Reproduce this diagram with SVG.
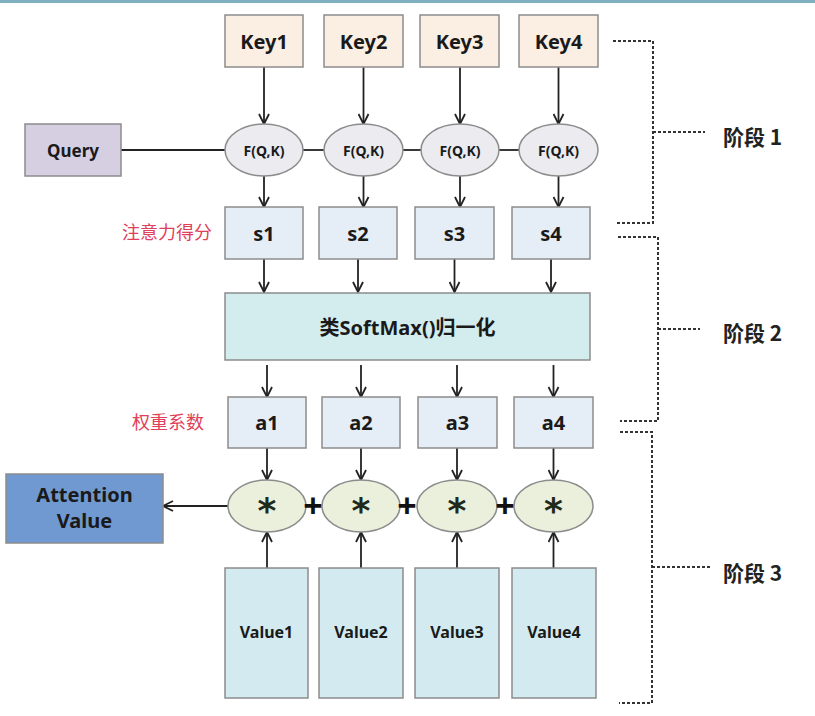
<svg xmlns="http://www.w3.org/2000/svg" width="815" height="716" viewBox="0 0 815 716">
<defs>
<marker id="ah" viewBox="0 0 12 12" refX="11" refY="6" markerWidth="12" markerHeight="12" markerUnits="userSpaceOnUse" orient="auto">
<path d="M1,1 L11,6 L1,11" fill="none" stroke="#222" stroke-width="1.8"/>
</marker>
<style>
.bx{stroke:#8c8c8c;stroke-width:1.5}
.key{fill:#fbeee3}
.sa{fill:#e5edf6}
.val{fill:#d3ebf0}
.el{fill:#ebebf0;stroke:#8c8c8c;stroke-width:1.5}
.st{fill:#eaf0dc;stroke:#8c8c8c;stroke-width:1.5}
.t{font-family:"Noto Sans","Noto Sans CJK SC",sans-serif;font-weight:bold;fill:#1a1a1a;text-anchor:middle;dominant-baseline:central}
.ast{font-family:"DejaVu Sans",sans-serif;font-weight:bold;font-size:36px;fill:#1f2a1a;text-anchor:middle}
.pl{font-family:"Noto Sans",sans-serif;font-weight:bold;font-size:34px;fill:#111;text-anchor:middle}
.red{font-family:"Noto Sans CJK SC","Noto Sans",sans-serif;fill:#e0405a;font-size:18px;text-anchor:end;dominant-baseline:central}
.stage{font-family:"Noto Sans CJK SC","Noto Sans",sans-serif;font-weight:bold;fill:#222;font-size:21px;dominant-baseline:central}
.ln{stroke:#222;stroke-width:1.8;fill:none}
.dot{stroke:#333;stroke-width:2;stroke-dasharray:3 2;fill:none}
</style>
</defs>
<rect x="0" y="0" width="815" height="716" fill="#ffffff"/>
<rect x="0" y="0" width="815" height="3" fill="#7fb0c0"/>

<g id="connectors">
<line class="ln" x1="121" y1="150" x2="225" y2="150"/>
<line class="ln" x1="303" y1="150" x2="324" y2="150"/>
<line class="ln" x1="403" y1="150" x2="421" y2="150"/>
<line class="ln" x1="499" y1="150" x2="519" y2="150"/>
<line class="ln" x1="264" y1="67" x2="264" y2="124" marker-end="url(#ah)"/>
<line class="ln" x1="363.5" y1="67" x2="363.5" y2="124" marker-end="url(#ah)"/>
<line class="ln" x1="460" y1="67" x2="460" y2="124" marker-end="url(#ah)"/>
<line class="ln" x1="558.5" y1="67" x2="558.5" y2="124" marker-end="url(#ah)"/>
<line class="ln" x1="264" y1="176" x2="264" y2="207" marker-end="url(#ah)"/>
<line class="ln" x1="363.5" y1="176" x2="363.5" y2="207" marker-end="url(#ah)"/>
<line class="ln" x1="460" y1="176" x2="460" y2="207" marker-end="url(#ah)"/>
<line class="ln" x1="558.5" y1="176" x2="558.5" y2="207" marker-end="url(#ah)"/>
<line class="ln" x1="264" y1="259" x2="264" y2="292" marker-end="url(#ah)"/>
<line class="ln" x1="358" y1="259" x2="358" y2="292" marker-end="url(#ah)"/>
<line class="ln" x1="454.5" y1="259" x2="454.5" y2="292" marker-end="url(#ah)"/>
<line class="ln" x1="551" y1="259" x2="551" y2="292" marker-end="url(#ah)"/>
<line class="ln" x1="267" y1="365" x2="267" y2="397" marker-end="url(#ah)"/>
<line class="ln" x1="361" y1="365" x2="361" y2="397" marker-end="url(#ah)"/>
<line class="ln" x1="457" y1="365" x2="457" y2="397" marker-end="url(#ah)"/>
<line class="ln" x1="553.5" y1="365" x2="553.5" y2="397" marker-end="url(#ah)"/>
<line class="ln" x1="267" y1="448" x2="267" y2="480" marker-end="url(#ah)"/>
<line class="ln" x1="361" y1="448" x2="361" y2="480" marker-end="url(#ah)"/>
<line class="ln" x1="457" y1="448" x2="457" y2="480" marker-end="url(#ah)"/>
<line class="ln" x1="553.5" y1="448" x2="553.5" y2="480" marker-end="url(#ah)"/>
<line class="ln" x1="267" y1="568" x2="267" y2="532" marker-end="url(#ah)"/>
<line class="ln" x1="361" y1="568" x2="361" y2="532" marker-end="url(#ah)"/>
<line class="ln" x1="457" y1="568" x2="457" y2="532" marker-end="url(#ah)"/>
<line class="ln" x1="553.5" y1="568" x2="553.5" y2="532" marker-end="url(#ah)"/>
<line class="ln" x1="228" y1="506" x2="163" y2="506" marker-end="url(#ah)"/>
</g>

<g id="query"><rect class="bx" x="25" y="124" width="96" height="52" fill="#d6cfe2"/><text class="t" x="73" y="150" font-size="17">Query</text></g>

<g id="key1"><rect class="bx key" x="225" y="15" width="78" height="52"/><text class="t" x="264" y="41" font-size="20">Key1</text></g>
<g id="key2"><rect class="bx key" x="324" y="15" width="79" height="52"/><text class="t" x="363.5" y="41" font-size="20">Key2</text></g>
<g id="key3"><rect class="bx key" x="420" y="15" width="79" height="52"/><text class="t" x="459.5" y="41" font-size="20">Key3</text></g>
<g id="key4"><rect class="bx key" x="519" y="15" width="79" height="52"/><text class="t" x="558.5" y="41" font-size="20">Key4</text></g>

<g id="f1"><ellipse class="el" cx="264" cy="150" rx="39" ry="26"/><text class="t" x="264" y="150" font-size="14">F(Q,K)</text></g>
<g id="f2"><ellipse class="el" cx="363.5" cy="150" rx="39.5" ry="26"/><text class="t" x="363.5" y="150" font-size="14">F(Q,K)</text></g>
<g id="f3"><ellipse class="el" cx="460" cy="150" rx="39" ry="26"/><text class="t" x="460" y="150" font-size="14">F(Q,K)</text></g>
<g id="f4"><ellipse class="el" cx="558.5" cy="150" rx="39.5" ry="26"/><text class="t" x="558.5" y="150" font-size="14">F(Q,K)</text></g>

<g id="label-score"><text class="red" x="212" y="231">注意力得分</text></g>

<g id="s1"><rect class="bx sa" x="225" y="207" width="78" height="52"/><text class="t" x="264" y="233" font-size="20">s1</text></g>
<g id="s2"><rect class="bx sa" x="319" y="207" width="78" height="52"/><text class="t" x="358" y="233" font-size="20">s2</text></g>
<g id="s3"><rect class="bx sa" x="415" y="207" width="79" height="52"/><text class="t" x="454.5" y="233" font-size="20">s3</text></g>
<g id="s4"><rect class="bx sa" x="512" y="207" width="78" height="52"/><text class="t" x="551" y="233" font-size="20">s4</text></g>

<g id="softmax"><rect class="bx" x="225" y="293" width="365" height="67" fill="#d3ecee"/><text class="t" x="407.5" y="327" font-size="20">类SoftMax()归一化</text></g>

<g id="label-weight"><text class="red" x="204" y="421">权重系数</text></g>

<g id="a1"><rect class="bx sa" x="228" y="397" width="78" height="51"/><text class="t" x="267" y="422" font-size="20">a1</text></g>
<g id="a2"><rect class="bx sa" x="322" y="397" width="78" height="51"/><text class="t" x="361" y="422" font-size="20">a2</text></g>
<g id="a3"><rect class="bx sa" x="418" y="397" width="79" height="51"/><text class="t" x="457.5" y="422" font-size="20">a3</text></g>
<g id="a4"><rect class="bx sa" x="514" y="397" width="79" height="51"/><text class="t" x="553.5" y="422" font-size="20">a4</text></g>

<g id="m1"><ellipse class="st" cx="267" cy="506" rx="39" ry="26"/><text class="ast" x="267" y="523">*</text></g>
<g id="m2"><ellipse class="st" cx="361" cy="506" rx="39" ry="26"/><text class="ast" x="361" y="523">*</text></g>
<g id="m3"><ellipse class="st" cx="457" cy="506" rx="40" ry="26"/><text class="ast" x="457" y="523">*</text></g>
<g id="m4"><ellipse class="st" cx="553.5" cy="506" rx="39.5" ry="26"/><text class="ast" x="553.5" y="523">*</text></g>

<g id="plus"><text class="pl" x="313" y="518">+</text><text class="pl" x="407" y="518">+</text><text class="pl" x="505" y="518">+</text></g>

<g id="attention"><rect class="bx" x="6" y="474" width="157" height="69" fill="#7099d2"/><text class="t" x="84.5" y="494" font-size="20" fill="#142033">Attention</text><text class="t" x="84.5" y="520" font-size="20" fill="#142033">Value</text></g>

<g id="v1"><rect class="bx val" x="225" y="568" width="83" height="130"/><text class="t" x="266.5" y="632" font-size="16">Value1</text></g>
<g id="v2"><rect class="bx val" x="319" y="568" width="84" height="130"/><text class="t" x="361" y="632" font-size="16">Value2</text></g>
<g id="v3"><rect class="bx val" x="415" y="568" width="84" height="130"/><text class="t" x="457" y="632" font-size="16">Value3</text></g>
<g id="v4"><rect class="bx val" x="512" y="568" width="84" height="130"/><text class="t" x="554" y="632" font-size="16">Value4</text></g>

<g id="stage1"><path class="dot" d="M613,41 H653 V223 H615 M653,132 H705"/><text class="stage" x="723" y="136">阶段 1</text></g>
<g id="stage2"><path class="dot" d="M618,237 H658 V421 H620 M658,329 H700"/><text class="stage" x="723" y="332">阶段 2</text></g>
<g id="stage3"><path class="dot" d="M620,432 H652 V703 H619 M652,567 H710"/><text class="stage" x="723" y="572">阶段 3</text></g>
</svg>
